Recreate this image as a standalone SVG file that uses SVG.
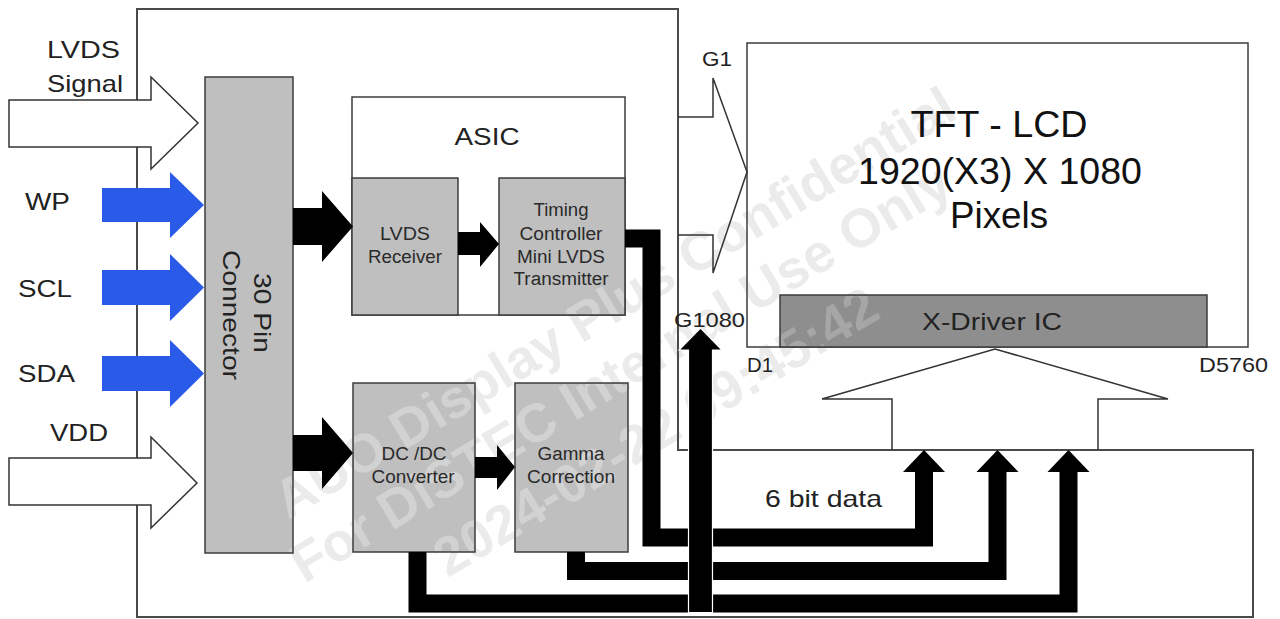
<svg xmlns="http://www.w3.org/2000/svg" width="1280" height="619" viewBox="0 0 1280 619">
<style>
.ol{fill:none;stroke:#4a4a4a;stroke-width:2}
.box{fill:#bfbfbf;stroke:#3c3c3c;stroke-width:1.5}
.wbox{fill:#fff;stroke:#3c3c3c;stroke-width:1.5}
.dbox{fill:#8e8e8e;stroke:#3c3c3c;stroke-width:1.5}
.warr{fill:#fff;stroke:#333;stroke-width:1.5}
.wedge{fill:none;stroke:#333;stroke-width:1.5}
.barr{fill:#2a5ae8}
.karr{fill:#000}
.bus{fill:none;stroke:#000;stroke-width:18;stroke-linejoin:miter}
text{font-family:"Liberation Sans",Arial,sans-serif;fill:#222}
.lb{font-size:24px}
.sm{font-size:18px;fill:#2a2a2a}
.big{font-size:36px;fill:#111}
.pin{font-size:21px}
.wm{font-family:"Liberation Sans",Arial,sans-serif;font-weight:bold;font-size:54px;fill:inherit}
</style>
<defs>
<g id="wm">
<g transform="translate(620,372) rotate(-31)">
<text class="wm" x="31" y="-44" text-anchor="middle">AUO Display Plus Confidential</text>
<text class="wm" x="0" y="19" text-anchor="middle">For DiSTEC Internal Use Only</text>
<text class="wm" x="0" y="88" text-anchor="middle">2024-02-22 09:45:42</text>
</g>
</g>
<clipPath id="c-conn"><rect x="206" y="78" width="86" height="474"/></clipPath>
<clipPath id="c-asic"><rect x="353" y="98" width="271" height="216"/></clipPath>
<clipPath id="c-lvds"><rect x="353" y="179" width="104" height="135"/></clipPath>
<clipPath id="c-tim"><rect x="500" y="179" width="124" height="135"/></clipPath>
<clipPath id="c-dc"><rect x="354" y="384" width="120" height="167"/></clipPath>
<clipPath id="c-gam"><rect x="516" y="384" width="111" height="167"/></clipPath>
<clipPath id="c-tft"><rect x="748" y="44" width="499" height="302"/></clipPath>
<clipPath id="c-xd"><rect x="781" y="296" width="425" height="50"/></clipPath>
</defs>
<rect width="1280" height="619" fill="#fff"/>

<g id="watermark"><use href="#wm" fill="#ebebeb"/></g>

<g id="board"><path class="ol" d="M137,617 V9 H678 V450 H1253 V617 Z"/></g>

<g id="lbl-lvds">
<text class="lb" x="47" y="58" textLength="73" lengthAdjust="spacingAndGlyphs">LVDS</text>
<text class="lb" x="47" y="92" textLength="76" lengthAdjust="spacingAndGlyphs">Signal</text>
</g>
<g id="lbl-wp"><text class="lb" x="25" y="210" textLength="45" lengthAdjust="spacingAndGlyphs">WP</text></g>
<g id="lbl-scl"><text class="lb" x="18" y="297" textLength="54" lengthAdjust="spacingAndGlyphs">SCL</text></g>
<g id="lbl-sda"><text class="lb" x="18" y="382" textLength="57" lengthAdjust="spacingAndGlyphs">SDA</text></g>
<g id="lbl-vdd"><text class="lb" x="50" y="441" textLength="58" lengthAdjust="spacingAndGlyphs">VDD</text></g>

<g id="connector30">
<rect class="box" x="205" y="77" width="88" height="476"/>
<use href="#wm" fill="#d2d2d2" clip-path="url(#c-conn)"/>
<text class="lb" transform="translate(254,313) rotate(90)" text-anchor="middle" textLength="80" lengthAdjust="spacingAndGlyphs">30 Pin</text>
<text class="lb" transform="translate(223,315) rotate(90)" text-anchor="middle" textLength="130" lengthAdjust="spacingAndGlyphs">Connector</text>
</g>

<g id="asic">
<rect class="wbox" x="352" y="97" width="273" height="218"/>
<use href="#wm" fill="#ebebeb" clip-path="url(#c-asic)"/>
<text class="lb" x="487" y="145" text-anchor="middle" textLength="65" lengthAdjust="spacingAndGlyphs">ASIC</text>
</g>
<g id="lvds-receiver">
<rect class="box" x="352" y="178" width="106" height="137"/>
<use href="#wm" fill="#d2d2d2" clip-path="url(#c-lvds)"/>
<text class="sm" x="405" y="240" text-anchor="middle" textLength="50" lengthAdjust="spacingAndGlyphs">LVDS</text>
<text class="sm" x="405" y="263" text-anchor="middle" textLength="74" lengthAdjust="spacingAndGlyphs">Receiver</text>
</g>
<g id="timing-controller">
<rect class="box" x="499" y="178" width="126" height="137"/>
<use href="#wm" fill="#d2d2d2" clip-path="url(#c-tim)"/>
<text class="sm" x="561" y="216" text-anchor="middle" textLength="55" lengthAdjust="spacingAndGlyphs">Timing</text>
<text class="sm" x="561" y="240" text-anchor="middle" textLength="83" lengthAdjust="spacingAndGlyphs">Controller</text>
<text class="sm" x="561" y="263" text-anchor="middle" textLength="88" lengthAdjust="spacingAndGlyphs">Mini LVDS</text>
<text class="sm" x="561" y="285" text-anchor="middle" textLength="95" lengthAdjust="spacingAndGlyphs">Transmitter</text>
</g>
<g id="dcdc">
<rect class="box" x="353" y="383" width="122" height="169"/>
<use href="#wm" fill="#d2d2d2" clip-path="url(#c-dc)"/>
<text class="sm" x="414" y="460" text-anchor="middle" textLength="65" lengthAdjust="spacingAndGlyphs">DC /DC</text>
<text class="sm" x="413" y="483" text-anchor="middle" textLength="83" lengthAdjust="spacingAndGlyphs">Converter</text>
</g>
<g id="gamma">
<rect class="box" x="515" y="383" width="113" height="169"/>
<use href="#wm" fill="#d2d2d2" clip-path="url(#c-gam)"/>
<text class="sm" x="571" y="460" text-anchor="middle" textLength="67" lengthAdjust="spacingAndGlyphs">Gamma</text>
<text class="sm" x="571" y="483" text-anchor="middle" textLength="88" lengthAdjust="spacingAndGlyphs">Correction</text>
</g>
<g id="tft-lcd">
<rect class="wbox" x="747" y="43" width="501" height="304"/>
<use href="#wm" fill="#ebebeb" clip-path="url(#c-tft)"/>
<text class="big" x="999" y="137" text-anchor="middle" textLength="177" lengthAdjust="spacingAndGlyphs">TFT - LCD</text>
<text class="big" x="1000" y="184" text-anchor="middle" textLength="284" lengthAdjust="spacingAndGlyphs">1920(X3) X 1080</text>
<text class="big" x="999" y="228" text-anchor="middle" textLength="98" lengthAdjust="spacingAndGlyphs">Pixels</text>
</g>
<g id="x-driver">
<rect class="dbox" x="780" y="295" width="427" height="52"/>
<use href="#wm" fill="#a6a6a6" clip-path="url(#c-xd)"/>
<text class="lb" x="992" y="330" text-anchor="middle" font-size="26" textLength="140" lengthAdjust="spacingAndGlyphs">X-Driver IC</text>
</g>
<g id="labels-pins">
<text class="pin" x="702" y="66" textLength="30" lengthAdjust="spacingAndGlyphs">G1</text>
<text class="pin" x="674" y="327" textLength="71" lengthAdjust="spacingAndGlyphs">G1080</text>
<text class="pin" x="747" y="372" textLength="26" lengthAdjust="spacingAndGlyphs">D1</text>
<text class="pin" x="1199" y="372" textLength="69" lengthAdjust="spacingAndGlyphs">D5760</text>
<text class="lb" x="765" y="507" font-size="26" textLength="117" lengthAdjust="spacingAndGlyphs">6 bit data</text>
</g>

<g id="connectors">
<polygon class="warr" points="9,100 151,100 151,77 198,123 151,169 151,147 9,147"/>
<polygon class="warr" points="9,458 151,458 151,437 197,483 151,528 151,505 9,505"/>
<polygon class="barr" points="102,188 170,188 170,172 204,205 170,238 170,222 102,222"/>
<polygon class="barr" points="102,270 170,270 170,254 204,287.5 170,321 170,305 102,305"/>
<polygon class="barr" points="102,356 170,356 170,340 204,373.5 170,407 170,391 102,391"/>
<polygon class="karr" points="293,208 322,208 322,191 353,226.5 322,262 322,245 293,245"/>
<polygon class="karr" points="293,435 322,435 322,417 353,453 322,489 322,471 293,471"/>
<polygon class="karr" points="458,232 480,232 480,222 499,244 480,267 480,255 458,255"/>
<polygon class="karr" points="475,457 497,457 497,445 515,467 497,490 497,478 475,478"/>
<polyline class="wedge" points="678,117 713,117 713,78 747,172 713,273 713,235 678,235"/>
<polyline class="wedge" points="892,450 892,399 822,399 995,349 1168,399 1098,399 1098,450"/>
<path class="bus" d="M625,238.5 H651.5 V537.5 H924 V472"/>
<path class="bus" d="M576,552 V571 H997.5 V472"/>
<path class="bus" d="M417.5,552 V603.5 H1068.5 V472"/>
<polygon class="karr" points="903,472 945,472 924,450"/>
<polygon class="karr" points="976.5,472 1018.5,472 997.5,450"/>
<polygon class="karr" points="1047.5,472 1089.5,472 1068.5,450"/>
<polygon class="karr" stroke="#fff" stroke-width="1.2" points="688.5,612.5 688.5,350 679,350 700.5,328 722,350 712.5,350 712.5,612.5"/>
</g>
</svg>
